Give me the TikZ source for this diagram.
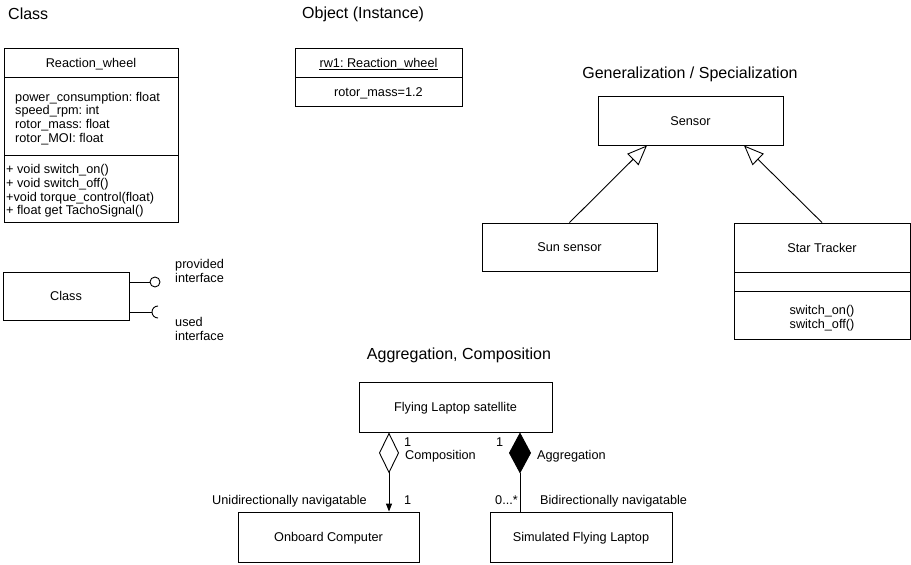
\documentclass[tikz,border=0pt]{standalone}
\usepackage{fontspec}
\setmainfont{Liberation Sans}
\usetikzlibrary{arrows.meta,calc}
\frenchspacing
\begin{document}
\begin{tikzpicture}[x=1pt,y=-1pt,
  every node/.style={font=\fontsize{12.7}{13.8}\selectfont},
  title/.style={font=\fontsize{16}{19}\selectfont, inner sep=0pt},
  box/.style={draw=black, line width=0.9pt, rectangle, inner sep=0pt, align=center},
  txt/.style={inner sep=0pt, align=left},
  lbl/.style={inner sep=0pt, text height=9pt, text depth=2.7pt, yshift=-1.5pt},
  conn/.style={draw=black, line width=0.9pt},
  gen/.style={conn, -{Triangle[open, length=20pt, width=16pt, line width=0.9pt]}},
  comp/.style={conn, {Diamond[open, length=41pt, width=20pt, line width=0.9pt]}-{Triangle[length=8pt, width=6pt]}},
  aggr/.style={conn, {Diamond[length=41pt, width=22pt]}-},
]
\useasboundingbox[fill=white] (0,0) rectangle (911,565);

% section titles
\node[title, anchor=west] (tclass) at (8,14) {Class};
\node[title, anchor=west] (tobj) at (302,14) {Object (Instance)};
\node[title] (tgen) at (690,74) {Generalization / Specialization};
\node[title] (tagg) at (459,355) {Aggregation, Composition};

% class Reaction_wheel with attribute and method compartments
\node[box, minimum width=174pt, minimum height=29pt] (rwh) at (91,62.5) {};
\node[lbl] (rwname) at (91,62.5) {Reaction\_wheel};
\node[box, minimum width=174pt, minimum height=78pt] (rwa) at (91,116) {};
\node[txt, anchor=west] (rwattr) at (15,118.5)
  {power\_consumption: float\\speed\_rpm: int\\rotor\_mass: float\\rotor\_MOI: float};
\node[box, minimum width=174pt, minimum height=67pt] (rwm) at (91,188.5) {};
\node[txt, anchor=west] (rwops) at (6,191)
  {+ void switch\_on()\\+ void switch\_off()\\+void torque\_control(float)\\+ float get TachoSignal()};

% object instance
\node[box, minimum width=167pt, minimum height=29pt] (objh) at (378.5,62.5) {};
\node[lbl] (objname) at (378.5,62.5) {rw1: Reaction\_wheel};
\draw[line width=0.8pt] ($(objname.base west)+(0,2)$) -- ($(objname.base east)+(0,2)$);
\node[box, minimum width=167pt, minimum height=29pt] (objv) at (378.5,91.5) {};
\node[lbl] (objval) at (378.5,91.5) {rotor\_mass=1.2};

% class with provided and used interfaces
\node[box, minimum width=126pt, minimum height=48pt] (cls) at (66,296) {};
\node[lbl] (clsname) at (66,296) {Class};
\node[draw=black, line width=0.9pt, circle, minimum size=10pt, inner sep=0pt] (prov) at (155,282) {};
\draw[conn] (cls.east |- prov) -- (prov.west);
\coordinate (sock) at (152,312);
\coordinate (socktop) at (158,306);
\draw[conn] (cls.east |- sock) -- (sock);
\draw[conn] (socktop) arc[start angle=270, end angle=90, radius=6];
\node[txt, anchor=west] (tprov) at (175,271) {provided\\interface};
\node[txt, anchor=west] (tused) at (175,329) {used\\interface};

% generalization
\node[box, minimum width=185pt, minimum height=49pt] (sensor) at (690.5,120.5) {};
\node[lbl] (sensorname) at (690.5,120.5) {Sensor};
\node[box, minimum width=175pt, minimum height=48pt] (sun) at (569.5,247) {};
\node[lbl] (sunname) at (569.5,247) {Sun sensor};
\node[box, minimum width=176pt, minimum height=49pt] (sth) at (822,247.5) {};
\node[lbl] (sthname) at (822,247.5) {Star Tracker};
\node[box, minimum width=176pt, minimum height=19pt] (sta) at (822,281.5) {};
\node[box, minimum width=176pt, minimum height=48pt] (stm) at (822,315) {};
\node[txt, align=center] (stops) at (822,318) {switch\_on()\\switch\_off()};
\draw[gen] (sun.north) -- ([xshift=-43.5pt]sensor.south);
\draw[gen] (sth.north) -- ([xshift=53.5pt]sensor.south);

% aggregation and composition
\node[box, minimum width=193pt, minimum height=50pt] (fl) at (455.5,407) {};
\node[lbl] (flname) at (455.5,407) {Flying Laptop satellite};
\node[box, minimum width=181pt, minimum height=50pt] (obc) at (328.5,537) {};
\node[lbl] (obcname) at (328.5,537) {Onboard Computer};
\node[box, minimum width=182pt, minimum height=50pt] (sim) at (581,537) {};
\node[lbl] (simname) at (581,537) {Simulated Flying Laptop};
\draw[comp] ([xshift=-66.5pt]fl.south) -- ([xshift=60.5pt]obc.north);
\draw[aggr] ([xshift=64.5pt]fl.south) -- ([xshift=-61pt]sim.north);

\node[lbl, anchor=west] (m1) at (404,442) {1};
\node[lbl, anchor=west] (tcomp) at (405,455) {Composition};
\node[lbl, anchor=west] (m2) at (496,442) {1};
\node[lbl, anchor=west] (taggr) at (537,455) {Aggregation};
\node[lbl, anchor=west] (tuni) at (212,500) {Unidirectionally navigatable};
\node[lbl, anchor=west] (m3) at (404,500) {1};
\node[lbl, anchor=west] (m4) at (495,500) {0...*};
\node[lbl, anchor=west] (tbi) at (540,500) {Bidirectionally navigatable};
\end{tikzpicture}
\end{document}
